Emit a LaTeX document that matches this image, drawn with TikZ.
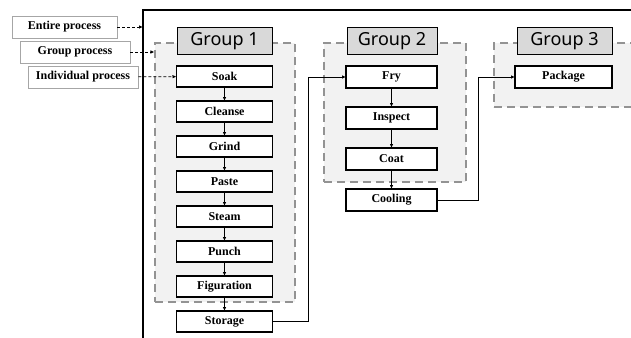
\documentclass[tikz,border=0pt]{standalone}
\usepackage{fontspec}
\setmainfont{Liberation Serif}
\newfontfamily\headfont{Noto Sans}
\usetikzlibrary{arrows.meta,positioning,backgrounds}

\begin{document}
\begin{tikzpicture}[
    x=1pt,y=-1pt,
    procbox/.style={draw,line width=1.3pt,fill=white,minimum width=96pt,minimum height=21pt,
      inner sep=0pt,outer sep=0pt,font=\bfseries\fontsize{12}{13}\selectfont},
    legendbox/.style={draw=gray!70,line width=0.9pt,fill=white,minimum width=110pt,minimum height=22pt,
      inner sep=0pt,font=\bfseries\fontsize{12}{13}\selectfont},
    groupbox/.style={draw=gray!85,dashed,dash pattern=on 8pt off 5pt,line width=1.1pt,fill=gray!10,
      inner sep=0pt},
    grouphead/.style={draw,line width=0.9pt,fill=gray!30,minimum height=27pt,inner sep=0pt,
      font=\headfont\fontsize{18}{20}\selectfont},
    flow/.style={line width=0.8pt,-{Latex[length=4pt,width=3.5pt]}},
    pointer/.style={flow,densely dashed}
  ]
  \clip (0,0) rectangle (631,337);

  % overall frame
  \coordinate (frame) at (143,10);
  \draw[line width=2pt] (143,340) -- (frame) -- (640,10);

  % group areas
  \node[groupbox,minimum width=140pt,minimum height=259pt] (g1) at (225,172.5) {};
  \node[groupbox,minimum width=142pt,minimum height=139pt] (g2) at (395,112.5) {};
  \node[groupbox,minimum width=170pt,minimum height=64pt] (g3) at (579,75) {};

  \node[grouphead,minimum width=95pt] (h1) at (224.5,41) {Group 1};
  \node[grouphead,minimum width=90pt] (h2) at (392,41) {Group 2};
  \node[grouphead,minimum width=95pt] (h3) at (564.5,41) {Group 3};

  % group 1
  \node[procbox] (soak) at (224.5,76.5) {Soak};
  \node[procbox,below=14pt of soak] (cleanse) {Cleanse};
  \node[procbox,below=14pt of cleanse] (grind) {Grind};
  \node[procbox,below=14pt of grind] (paste) {Paste};
  \node[procbox,below=14pt of paste] (steam) {Steam};
  \node[procbox,below=14pt of steam] (punch) {Punch};
  \node[procbox,below=14pt of punch] (figur) {Figuration};
  \node[procbox,below=14pt of figur] (storage) {Storage};

  % group 2
  \node[procbox,minimum width=91pt,minimum height=22pt] (fry) at (391.5,77) {Fry};
  \node[procbox,minimum width=91pt,minimum height=22pt,below=19pt of fry] (inspect) {Inspect};
  \node[procbox,minimum width=91pt,minimum height=22pt,below=19pt of inspect] (coat) {Coat};
  \node[procbox,minimum width=91pt,minimum height=22pt,below=19pt of coat] (cooling) {Cooling};

  % group 3
  \node[procbox,minimum width=97pt,minimum height=22pt] (package) at (563.5,77) {Package};

  % legend
  \node[legendbox,minimum width=105pt] (entire) at (64.5,27) {Entire process};
  \node[legendbox] (grp) at (75,52) {Group process};
  \node[legendbox] (indiv) at (83,77) {Individual process};

  \draw[pointer] (entire) -- (entire -| frame);
  \draw[pointer] (grp) -- (grp -| g1.west);
  \draw[pointer] (indiv) -- (soak);

  % flows
  \foreach \a/\b in {soak/cleanse,cleanse/grind,grind/paste,paste/steam,steam/punch,
      punch/figur,figur/storage,fry/inspect,inspect/coat,coat/cooling}
    \draw[flow] (\a) -- (\b);
  \draw[flow] (storage.east) -- ++(36,0) |- (fry.west);
  \draw[flow] (cooling.east) -- ++(41,0) |- (package.west);
\end{tikzpicture}
\end{document}
